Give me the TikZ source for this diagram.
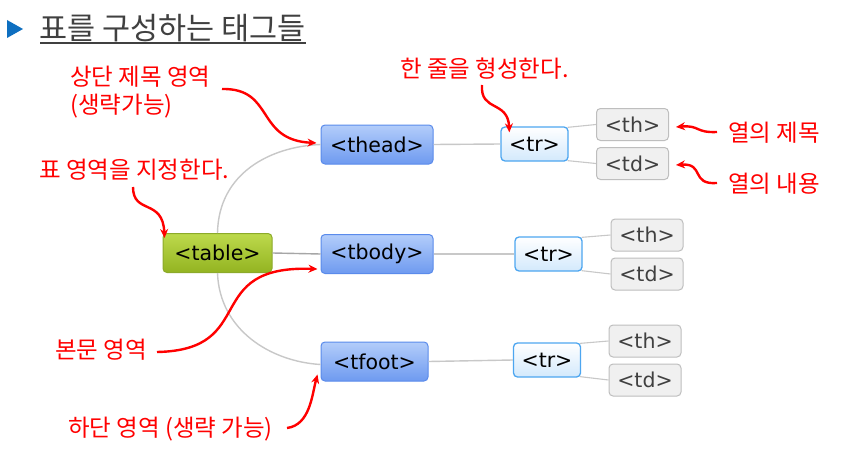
\documentclass[tikz,border=0pt]{standalone}
\usepackage{fontspec}
\setmainfont{Noto Sans CJK KR}
\newfontfamily\tagfont{DejaVu Sans}
\usetikzlibrary{arrows.meta,calc}
\definecolor{memored}{HTML}{FF0000}
\definecolor{titlegray}{HTML}{404040}
\definecolor{titleblue}{HTML}{0E6FC0}
\definecolor{tabletop}{HTML}{BDD94C}
\definecolor{tablebot}{HTML}{93B421}
\definecolor{tableedge}{HTML}{8CAA2A}
\definecolor{parttop}{HTML}{B3CDFA}
\definecolor{partbot}{HTML}{6E9AF0}
\definecolor{partedge}{HTML}{5A8BEB}
\definecolor{rowbot}{HTML}{D3E9FC}
\definecolor{rowedge}{HTML}{4DA6F0}
\definecolor{cellfill}{HTML}{F0F0F0}
\definecolor{celledge}{HTML}{BEBEBE}
\definecolor{celltext}{HTML}{404040}
\definecolor{linkgray}{HTML}{C8C8C8}

\begin{document}
\begin{tikzpicture}[x=1pt, y=-1pt,
    tag/.style={rounded corners=4pt, line width=1pt, inner sep=0pt, font=\tagfont\fontsize{20.5}{24}\selectfont},
    tabletag/.style={tag, draw=tableedge, top color=tabletop, bottom color=tablebot, minimum width=109pt, minimum height=39pt},
    parttag/.style={tag, draw=partedge, top color=parttop, bottom color=partbot, minimum width=112pt, minimum height=39pt},
    rowtag/.style={tag, draw=rowedge, line width=1.3pt, top color=white, bottom color=rowbot, minimum width=67pt, minimum height=34pt},
    celltag/.style={tag, draw=celledge, fill=cellfill, text=celltext, minimum width=72pt, minimum height=32pt},
    memo/.style={anchor=west, align=left, text=memored, inner sep=0pt, font=\fontsize{23.5}{28}\selectfont},
    memoarrow/.style={draw=memored, line width=2.4pt, -{Stealth[length=9pt,width=8pt]}},
    link/.style={draw=linkgray, line width=1.4pt}
]
    % Bidang gambar
    \fill[white] (0,0) rectangle (846,452);
    \useasboundingbox (0,0) rectangle (846,452);

    % Judul
    \fill[titleblue] (7,20) -- (23,29) -- (7,38) -- cycle;
    \node[anchor=west, inner sep=0pt, text=titlegray, font=\fontsize{30.5}{36}\selectfont] (title) at (39,28) {표를 구성하는 태그들};
    \draw[titlegray, line width=1.3pt] (40,43) -- (306,43);

    % Simpul tag
    \node[tabletag] (table) at (217.5,253) {<table>};
    \node[parttag] (thead) at (377,144.5) {<thead>};
    \node[parttag] (tbody) at (377,254) {<tbody>};
    \node[parttag, minimum width=107pt] (tfoot) at (374.5,361.5) {<tfoot>};

    \node[rowtag] (tr1) at (534.5,144) {<tr>};
    \node[rowtag] (tr2) at (548.5,254) {<tr>};
    \node[rowtag] (tr3) at (547,360) {<tr>};

    \node[celltag] (th1) at (632.5,124.5) {<th>};
    \node[celltag] (td1) at (632.5,163.5) {<td>};
    \node[celltag] (th2) at (647,235) {<th>};
    \node[celltag] (td2) at (647,274) {<td>};
    \node[celltag] (th3) at (645,341) {<th>};
    \node[celltag] (td3) at (645,380) {<td>};

    % Garis penghubung
    \draw[link] (table.north) .. controls +(1,-60) and +(-50,2) .. (thead.west);
    \draw[link, draw=gray!70] (table.east) -- (tbody.west);
    \draw[link] (table.south) .. controls +(2,57) and +(-50,-3) .. ([yshift=-3pt]tfoot.west);
    \draw[link] (thead.east) -- (tr1.west);
    \draw[link] (tbody.east) -- (tr2.west);
    \draw[link] (tfoot.east) -- (tr3.west);
    \foreach \r in {1,2,3} {
        \draw[link, line width=1.1pt] ([xshift=-1pt,yshift=-1pt]tr\r.north east) -- (th\r.west);
        \draw[link, line width=1.1pt] ([xshift=-1pt,yshift=1pt]tr\r.south east) -- (td\r.west);
    }

    % Keterangan
    \node[memo] (headmemo) at (70,92) {상단 제목 영역\\(생략가능)};
    \node[memo] (tablememo) at (39,170) {표 영역을 지정한다.};
    \node[memo] (rowmemo) at (400,69) {한 줄을 형성한다.};
    \node[memo] (thmemo) at (728,133) {열의 제목};
    \node[memo] (tdmemo) at (728,184) {열의 내용};
    \node[memo] (bodymemo) at (55,350) {본문 영역};
    \node[memo] (footmemo) at (68,429) {하단 영역 (생략 가능)};

    % Panah keterangan
    \coordinate (headfrom) at (222,89);
    \coordinate (tablefrom) at (133,187);
    \coordinate (rowfrom) at (482,85);
    \coordinate (thfrom) at (717,132);
    \coordinate (tdfrom) at (717,183);
    \coordinate (bodyfrom) at (157,352);
    \coordinate (footfrom) at (287,428);

    \draw[memoarrow] (headfrom) .. controls (275,88) and (255,140) .. ([xshift=-4pt,yshift=1.5pt]thead.west);
    \draw[memoarrow] (tablefrom) .. controls (133,215) and (163,198) .. ([xshift=2pt,yshift=-5pt]table.north west);
    \draw[memoarrow] (rowfrom) .. controls (480,112) and (508,100) .. ([xshift=9pt,yshift=-6pt]tr1.north west);
    \draw[memoarrow] (thfrom) .. controls (695,133) and (700,125) .. ([xshift=7pt,yshift=-2.5pt]th1.east);
    \draw[memoarrow] (tdfrom) .. controls (690,185) and (705,163) .. ([xshift=7pt,yshift=-1.5pt]td1.east);
    \draw[memoarrow] (bodyfrom) .. controls (260,350) and (200,265) .. ([xshift=-3pt,yshift=5pt]tbody.south west);
    \draw[memoarrow] (footfrom) .. controls (310,425) and (312,395) .. ([xshift=-3pt,yshift=7pt]tfoot.south west);
\end{tikzpicture}
\end{document}
